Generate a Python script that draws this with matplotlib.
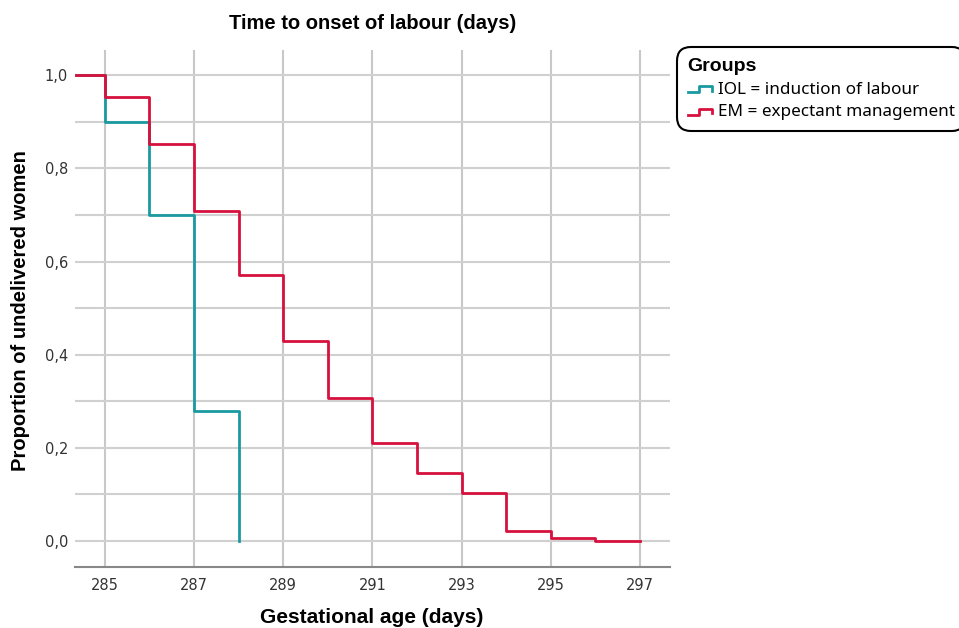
import matplotlib.pyplot as plt
from matplotlib.legend_handler import HandlerBase
from matplotlib.lines import Line2D
from matplotlib.ticker import MultipleLocator, FuncFormatter

# Kaplan-Meier style step data (time, proportion still undelivered)
iol_days = [284.35, 285, 286, 287, 288, 288]
iol_prop = [1.0, 0.899, 0.70, 0.279, 0.0, 0.0]

em_days = [284.35, 285, 286, 287, 288, 289, 290, 291, 292, 293, 294, 295, 296, 297]
em_prop = [1.0, 0.953, 0.852, 0.708, 0.571, 0.429, 0.307, 0.210, 0.146, 0.103, 0.021, 0.006, 0.0, 0.0]

group_labels = ["IOL = induction of labour", "EM = expectant management"]
x_ticks = [285, 287, 289, 291, 293, 295, 297]

teal = "#1A9AA0"
red = "#D7113D"


class StepHandler(HandlerBase):
    def create_artists(self, legend, orig_handle, xdescent, ydescent,
                       width, height, fontsize, trans):
        w, h = width, height
        xs = [0.05 * w, 0.45 * w, 0.45 * w, 0.95 * w, 0.95 * w]
        ys = [0.1 * h, 0.1 * h, 0.65 * h, 0.65 * h, 0.25 * h]
        ln = Line2D([x - xdescent for x in xs], [y - ydescent for y in ys],
                    color=orig_handle.get_color(), lw=2, transform=trans)
        return [ln]


fig = plt.figure(figsize=(9.59, 6.28), dpi=100)
ax = fig.add_axes([0.0782, 0.0971, 0.6204, 0.823])

ax.step(iol_days, iol_prop, where="post", color=teal, lw=2, zorder=3)
ax.step(em_days, em_prop, where="post", color=red, lw=2, zorder=4)

ax.set_xlim(284.33, 297.67)
ax.set_ylim(-0.056, 1.054)
ax.set_xticks(x_ticks)
ax.yaxis.set_major_locator(MultipleLocator(0.2))
ax.yaxis.set_minor_locator(MultipleLocator(0.1))
ax.yaxis.set_major_formatter(FuncFormatter(lambda v, p: f"{v:.1f}".replace(".", ",")))

ax.grid(True, which="both", axis="y", color="#D0D0D0", lw=1.5)
ax.grid(True, which="major", axis="x", color="#C8C8C8", lw=1.5)
ax.set_axisbelow(True)
for s in ["top", "right", "left"]:
    ax.spines[s].set_visible(False)
ax.spines["bottom"].set_color("#888888")
ax.spines["bottom"].set_linewidth(1.5)
ax.tick_params(axis="both", which="both", length=0, labelsize=10.5, colors="#333333")
ax.tick_params(axis="y", pad=5)
ax.tick_params(axis="x", pad=8)

ax.set_title("Time to onset of labour (days)", fontsize=14.5, fontweight="bold",
             family="Liberation Sans", pad=15)
fig.text(0.388, 0.016, "Gestational age (days)", fontsize=15, fontweight="bold",
         family="Liberation Sans", ha="center", va="center")
fig.text(0.021, 0.505, "Proportion of undelivered women", fontsize=14.5, fontweight="bold",
         family="Liberation Sans", ha="center", va="center", rotation=90)

handles = [Line2D([], [], color=teal), Line2D([], [], color=red)]
leg = fig.legend(handles, group_labels, title="Groups", loc="upper left",
                 bbox_to_anchor=(0.697, 0.938), frameon=True, fancybox=True,
                 handler_map={Line2D: StepHandler()}, handlelength=1.5,
                 handletextpad=0.3, borderpad=0.6, labelspacing=0.4,
                 prop={"family": "Noto Sans", "size": 12.3},
                 title_fontproperties={"family": "Liberation Sans", "weight": "bold", "size": 14})
leg._legend_box.align = "left"
frame = leg.get_frame()
frame.set_edgecolor("black")
frame.set_linewidth(1.5)
frame.set_boxstyle("round,pad=0,rounding_size=0.8")
frame.set_alpha(1)

fig.savefig("out.png", dpi=100)
